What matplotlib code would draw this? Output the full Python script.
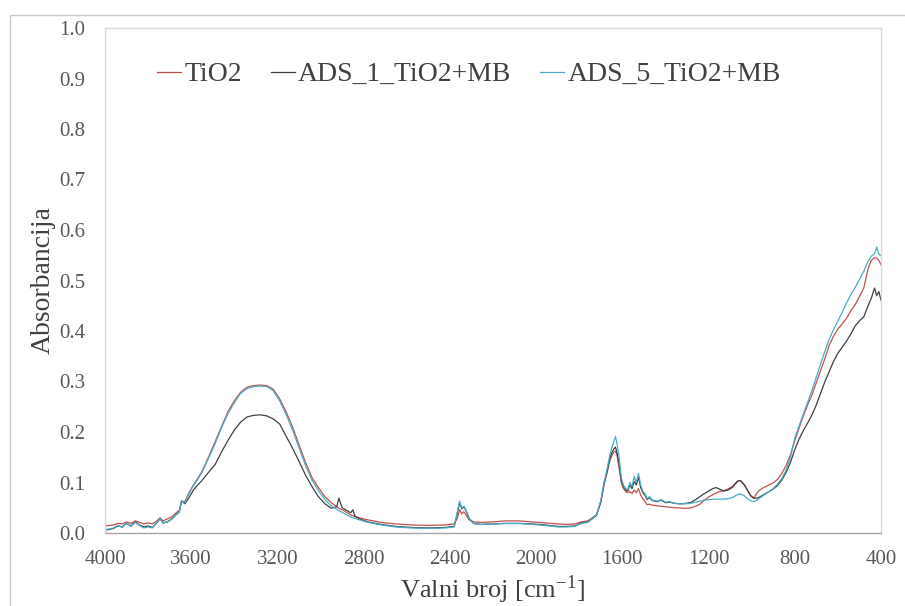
import matplotlib
matplotlib.use("Agg")
import matplotlib.pyplot as plt
from matplotlib.patches import Rectangle
from matplotlib.ticker import MultipleLocator, FormatStrFormatter

plt.rcParams['font.family'] = ['Liberation Serif', 'DejaVu Serif']
plt.rcParams['mathtext.fontset'] = 'stix'

# wavenumbers (cm-1)
wavenumber = [
    4000, 3980, 3960, 3940, 3920, 3900, 3880, 3860, 3840, 3820,
    3800, 3780, 3760, 3745, 3730, 3710, 3690, 3670, 3655, 3645,
    3630, 3610, 3590, 3570, 3550, 3520, 3490, 3460, 3430, 3400,
    3370, 3340, 3310, 3280, 3250, 3220, 3190, 3160, 3130, 3100,
    3070, 3040, 3010, 2980, 2950, 2925, 2915, 2900, 2880, 2860,
    2850, 2840, 2820, 2780, 2720, 2650, 2580, 2500, 2420, 2380,
    2365, 2355, 2345, 2335, 2325, 2310, 2290, 2260, 2200, 2140,
    2080, 2020, 1960, 1900, 1860, 1820, 1790, 1760, 1740, 1720,
    1700, 1685, 1670, 1660, 1650, 1640, 1632, 1625, 1615, 1605,
    1595, 1585, 1575, 1565, 1555, 1545, 1535, 1525, 1515, 1505,
    1495, 1485, 1475, 1460, 1440, 1420, 1400, 1380, 1360, 1340,
    1320, 1300, 1280, 1260, 1240, 1220, 1200, 1180, 1165, 1150,
    1130, 1110, 1090, 1070, 1060, 1050, 1035, 1020, 1005, 990,
    975, 960, 940, 920, 900, 880, 860, 840, 820,
    800, 780, 760, 740, 720, 700, 680, 660, 640, 620,
    600, 580, 560, 540, 520, 500, 480, 460, 445, 430,
    420, 410, 400,
]

tio2 = [
    0.014, 0.015, 0.016, 0.019, 0.018, 0.022, 0.019, 0.024, 0.021, 0.018,
    0.020, 0.018, 0.024, 0.030, 0.024, 0.028, 0.032, 0.040, 0.045, 0.062,
    0.062, 0.080, 0.095, 0.108, 0.122, 0.150, 0.180, 0.210, 0.240, 0.262,
    0.279, 0.289, 0.292, 0.293, 0.292, 0.285, 0.266, 0.240, 0.210, 0.175,
    0.140, 0.110, 0.090, 0.072, 0.060, 0.052, 0.049, 0.046, 0.041, 0.036,
    0.034, 0.033, 0.030, 0.026, 0.021, 0.018, 0.016, 0.015, 0.016, 0.018,
    0.030, 0.046, 0.038, 0.042, 0.036, 0.026, 0.022, 0.021, 0.022, 0.024,
    0.024, 0.022, 0.020, 0.018, 0.017, 0.018, 0.022, 0.024, 0.030, 0.036,
    0.060, 0.095, 0.120, 0.140, 0.152, 0.160, 0.162, 0.155, 0.130, 0.100,
    0.088, 0.082, 0.080, 0.082, 0.078, 0.085, 0.080, 0.088, 0.075, 0.068,
    0.062, 0.056, 0.057, 0.055, 0.054, 0.053, 0.052, 0.051, 0.050, 0.050,
    0.049, 0.049, 0.050, 0.053, 0.057, 0.065, 0.071, 0.076, 0.079, 0.082,
    0.084, 0.087, 0.092, 0.101, 0.104, 0.103, 0.096, 0.085, 0.074, 0.069,
    0.080, 0.086, 0.091, 0.095, 0.099, 0.106, 0.118, 0.134, 0.155,
    0.183, 0.208, 0.232, 0.254, 0.274, 0.298, 0.322, 0.346, 0.372, 0.390,
    0.404, 0.414, 0.425, 0.440, 0.452, 0.468, 0.485, 0.523, 0.540, 0.545,
    0.544, 0.540, 0.531,
]

ads_1 = [
    0.006, 0.007, 0.009, 0.014, 0.012, 0.019, 0.014, 0.022, 0.016, 0.012,
    0.014, 0.011, 0.020, 0.028, 0.020, 0.022, 0.028, 0.036, 0.042, 0.064,
    0.058, 0.070, 0.085, 0.095, 0.104, 0.120, 0.135, 0.160, 0.183, 0.204,
    0.220, 0.230, 0.233, 0.234, 0.232, 0.226, 0.216, 0.192, 0.168, 0.142,
    0.115, 0.092, 0.072, 0.058, 0.049, 0.052, 0.069, 0.050, 0.045, 0.040,
    0.046, 0.033, 0.028, 0.022, 0.017, 0.013, 0.011, 0.010, 0.011, 0.013,
    0.040, 0.060, 0.048, 0.052, 0.044, 0.028, 0.019, 0.017, 0.018, 0.019,
    0.019, 0.018, 0.016, 0.013, 0.013, 0.014, 0.020, 0.022, 0.028, 0.035,
    0.062, 0.098, 0.124, 0.145, 0.158, 0.166, 0.170, 0.160, 0.135, 0.105,
    0.092, 0.086, 0.083, 0.095, 0.088, 0.102, 0.095, 0.110, 0.090, 0.080,
    0.075, 0.066, 0.070, 0.064, 0.062, 0.065, 0.060, 0.061, 0.059, 0.058,
    0.058, 0.059, 0.061, 0.066, 0.072, 0.078, 0.083, 0.088, 0.090, 0.087,
    0.083, 0.085, 0.090, 0.100, 0.104, 0.103, 0.096, 0.085, 0.074, 0.069,
    0.069, 0.072, 0.077, 0.082, 0.087, 0.094, 0.105, 0.120, 0.140,
    0.165, 0.186, 0.203, 0.218, 0.234, 0.254, 0.277, 0.300, 0.320, 0.340,
    0.356, 0.368, 0.380, 0.394, 0.410, 0.420, 0.428, 0.450, 0.465, 0.485,
    0.470, 0.478, 0.461,
]

ads_5 = [
    0.007, 0.008, 0.010, 0.015, 0.011, 0.020, 0.013, 0.021, 0.015, 0.010,
    0.012, 0.010, 0.021, 0.029, 0.019, 0.023, 0.027, 0.037, 0.043, 0.063,
    0.060, 0.078, 0.094, 0.106, 0.120, 0.148, 0.176, 0.208, 0.236, 0.258,
    0.277, 0.286, 0.290, 0.291, 0.290, 0.282, 0.262, 0.235, 0.204, 0.169,
    0.134, 0.105, 0.084, 0.066, 0.054, 0.047, 0.044, 0.041, 0.036, 0.032,
    0.030, 0.029, 0.026, 0.021, 0.016, 0.012, 0.010, 0.009, 0.010, 0.012,
    0.042, 0.063, 0.050, 0.053, 0.045, 0.029, 0.019, 0.017, 0.018, 0.019,
    0.019, 0.017, 0.015, 0.012, 0.012, 0.013, 0.019, 0.021, 0.029, 0.036,
    0.064, 0.100, 0.128, 0.150, 0.168, 0.180, 0.191, 0.178, 0.150, 0.110,
    0.095, 0.088, 0.086, 0.100, 0.092, 0.112, 0.100, 0.118, 0.095, 0.083,
    0.078, 0.068, 0.072, 0.065, 0.063, 0.066, 0.061, 0.062, 0.059, 0.058,
    0.058, 0.058, 0.059, 0.061, 0.063, 0.065, 0.066, 0.067, 0.067, 0.067,
    0.067, 0.068, 0.070, 0.075, 0.077, 0.077, 0.074, 0.068, 0.064, 0.062,
    0.065, 0.070, 0.076, 0.082, 0.088, 0.097, 0.108, 0.125, 0.150,
    0.188, 0.212, 0.236, 0.259, 0.283, 0.309, 0.335, 0.360, 0.384, 0.403,
    0.420, 0.437, 0.455, 0.472, 0.486, 0.502, 0.518, 0.538, 0.548, 0.553,
    0.566, 0.552, 0.549,
]

series_names = ["TiO2", "ADS_1_TiO2+MB", "ADS_5_TiO2+MB"]
series_colors = ["#C0504D", "#404040", "#4BACC6"]
x_ticks = [4000, 3600, 3200, 2800, 2400, 2000, 1600, 1200, 800, 400]

fig = plt.figure(figsize=(9.05, 6.06), dpi=100)
# outer chart border
fig.patches.append(Rectangle((10 / 905, -0.1), 1.2, 0.1 + (606 - 15) / 606,
                             transform=fig.transFigure, fill=False,
                             edgecolor="#c8c8c8", linewidth=1.0))

ax = fig.add_axes([105 / 905, 1 - 533 / 606, (881 - 105) / 905, (533 - 28) / 606])

for vals, name, col in zip([tio2, ads_1, ads_5], series_names, series_colors):
    ax.plot(wavenumber, vals, color=col, linewidth=0.9, label=name)

ax.set_xlim(4000, 400)
ax.set_ylim(0, 1.0)
ax.set_xticks(x_ticks)
ax.yaxis.set_major_locator(MultipleLocator(0.1))
ax.yaxis.set_major_formatter(FormatStrFormatter('%.1f'))
ax.tick_params(axis='both', length=0, labelsize=15, colors="#595959")
ax.tick_params(axis='y', pad=14)
ax.tick_params(axis='x', pad=12)

for side in ['left', 'top', 'right']:
    ax.spines[side].set_color("#d9d9d9")
    ax.spines[side].set_linewidth(1.0)
ax.spines['bottom'].set_color("#a6a6a6")
ax.spines['bottom'].set_linewidth(1.0)

ax.set_ylabel("Absorbancija", fontsize=20, color="#404040", labelpad=3)
ax.set_xlabel(r"Valni broj [cm$^{\mathregular{-1}}$]", fontsize=19, color="#404040", labelpad=3)

leg = ax.legend(loc='upper left', bbox_to_anchor=(0.053, 0.955), ncol=3, frameon=False,
                fontsize=20, handlelength=0.85, handletextpad=0.12, columnspacing=1.05,
                borderaxespad=0)
for t in leg.get_texts():
    t.set_color("#404040")

fig.savefig("out.png", dpi=100)
